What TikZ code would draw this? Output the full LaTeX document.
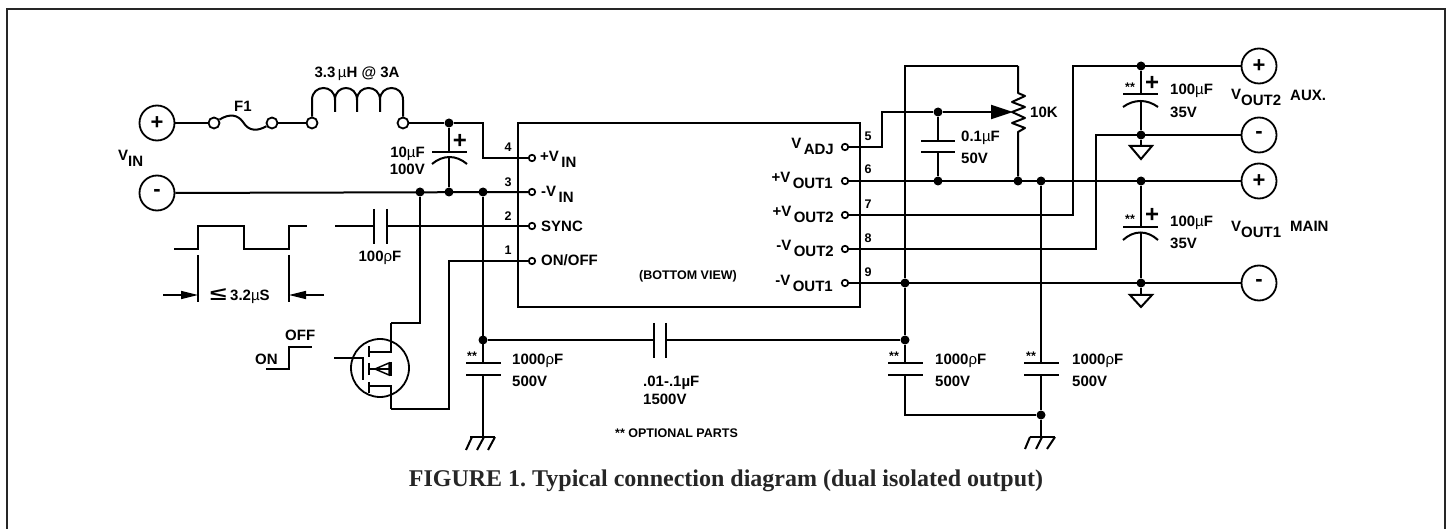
\documentclass[tikz,border=0pt]{standalone}
\usepackage{fontspec}
\usepackage{graphicx}
\setmainfont{Liberation Sans}
\newfontfamily\captionfont{Liberation Serif}
\usetikzlibrary{arrows.meta}
\usetikzlibrary{shapes}
\newcommand{\lowsub}[1]{\raisebox{-6pt}{#1}}
\newcommand{\thinmu}{{\mdseries µ}}
\newcommand{\thinrho}{{\mdseries ρ}}

\begin{document}
\begin{tikzpicture}[x = 1pt, y = -1pt]
	\tikzstyle{wireStyle} = [line width = 2pt]
	\tikzstyle{thinStyle} = [line width = 1.5pt]
	\tikzstyle{junctionStyle} = [shape = circle, minimum size = 9pt, inner sep = 0pt, fill]
	\tikzstyle{pinStyle} = [shape = circle, minimum size = 6.5pt, inner sep = 0pt, draw, line width = 1.7pt, fill = white]
	\tikzstyle{contactStyle} = [shape = circle, minimum size = 11pt, inner sep = 0pt, draw, line width = 1.8pt, fill = white]
	\tikzstyle{terminalStyle} = [shape = circle, minimum size = 35pt, inner sep = 0pt, draw, line width = 1.8pt, font = \bfseries\fontsize{22}{22}\selectfont]
	\tikzstyle{labelStyle} = [inner sep = 0pt, font = \bfseries\fontsize{15}{15}\selectfont]
	\tikzstyle{smallStyle} = [inner sep = 0pt, font = \bfseries\fontsize{12.5}{12.5}\selectfont]
	\tikzstyle{plusStyle} = [inner sep = 0pt, font = \bfseries\fontsize{24}{24}\selectfont]
	\useasboundingbox (0, 0) rectangle (1449, 529);
	% frame, open at the bottom
	\draw[line width = 2.4pt, color = black!85] (7, 529) -- (7, 9) -- (1445, 9) -- (1445, 529);
	% terminals
	\node[terminalStyle] (vinP) at (157, 123) {+};
	\node[terminalStyle] (vinN) at (157, 193) {-};
	\node[terminalStyle] (aux2P) at (1259, 66) {+};
	\node[terminalStyle] (aux2N) at (1259, 135) {-};
	\node[terminalStyle] (main1P) at (1259, 181) {+};
	\node[terminalStyle] (main1N) at (1259, 283) {-};
	% fuse and choke contacts
	\node[contactStyle] (fuseA) at (214, 123) {};
	\node[contactStyle] (fuseB) at (272, 123) {};
	\node[contactStyle] (chokeA) at (312, 123) {};
	\node[contactStyle] (chokeB) at (403, 123) {};
	% converter body
	\draw[line width = 2.5pt] (518, 123) rectangle (860, 307);
	% pins
	\node[pinStyle] (pin4) at (532, 158) {};
	\node[pinStyle] (pin3) at (532, 192) {};
	\node[pinStyle] (pin2) at (532, 226) {};
	\node[pinStyle] (pin1) at (532, 261) {};
	\node[pinStyle] (pin5) at (845, 147) {};
	\node[pinStyle] (pin6) at (845, 181) {};
	\node[pinStyle] (pin7) at (845, 215) {};
	\node[pinStyle] (pin8) at (845, 249) {};
	\node[pinStyle] (pin9) at (845, 283) {};
	% junctions
	\node[junctionStyle] (j0) at (449, 123) {};
	\node[junctionStyle] (j1) at (420, 192) {};
	\node[junctionStyle] (j2) at (449, 192) {};
	\node[junctionStyle] (j3) at (483, 192) {};
	\node[junctionStyle] (j4) at (483, 340) {};
	\node[junctionStyle] (j5) at (938, 112) {};
	\node[junctionStyle] (j6) at (938, 181) {};
	\node[junctionStyle] (j7) at (1018, 181) {};
	\node[junctionStyle] (j8) at (1041, 181) {};
	\node[junctionStyle] (j9) at (905, 283) {};
	\node[junctionStyle] (j10) at (905, 340) {};
	\node[junctionStyle] (j11) at (1041, 415) {};
	\node[junctionStyle] (j12) at (1141, 66) {};
	\node[junctionStyle] (j13) at (1141, 135) {};
	\node[junctionStyle] (j14) at (1141, 181) {};
	\node[junctionStyle] (j15) at (1141, 283) {};
	% bends and free ends
	\coordinate (b4) at (483, 158);
	\coordinate (b1) at (449, 261);
	\coordinate (b5) at (882, 147);
	\coordinate (b7) at (1073, 215);
	\coordinate (b8) at (1096, 249);
	\coordinate (potTop) at (1018, 66);
	\coordinate (potHigh) at (1018, 93);
	\coordinate (potLow) at (1018, 132);
	\coordinate (potWiper) at (1013, 112);
	\coordinate (drain) at (391, 323);
	\coordinate (source) at (391, 409);
	\coordinate (syncL) at (335, 226);
	\coordinate (syncA) at (374, 226);
	\coordinate (syncB) at (387, 226);
	\coordinate (isoA) at (654, 340);
	\coordinate (isoB) at (666, 340);
	\coordinate (gndL) at (483, 437);
	\coordinate (gndR) at (1041, 437);
	\coordinate (triU) at (1141, 146);
	\coordinate (triD) at (1141, 295);
	\coordinate (capL) at (483, 363);
	\coordinate (capLb) at (483, 375);
	\coordinate (capM) at (905, 363);
	\coordinate (capMb) at (905, 375);
	\coordinate (capR) at (1041, 363);
	\coordinate (capRb) at (1041, 375);
	\coordinate (capMe) at (905, 415);
	\coordinate (capA) at (938, 141);
	\coordinate (capAb) at (938, 152);
	\coordinate (capIn) at (449, 152);
	\coordinate (capInb) at (449, 157);
	\coordinate (capU) at (1141, 94);
	\coordinate (capUb) at (1141, 101);
	\coordinate (capD) at (1141, 227);
	\coordinate (capDb) at (1141, 232);
	% wiring, input side
	\draw[wireStyle] (vinP) -- (fuseA);
	\draw[wireStyle] (fuseA) .. controls (230, 113) and (238, 115) .. (243, 122) .. controls (249, 132) and (258, 131) .. (fuseB);
	\draw[wireStyle] (fuseB) -- (chokeA);
	\draw[wireStyle] (chokeA) -- (312, 100) .. controls (312, 84) and (335, 84) .. (335, 100) -- (335, 112);
	\draw[wireStyle] (335, 100) .. controls (335, 84) and (357, 84) .. (357, 100) -- (357, 112);
	\draw[wireStyle] (357, 100) .. controls (357, 84) and (380, 84) .. (380, 100) -- (380, 112);
	\draw[wireStyle] (380, 100) .. controls (380, 84) and (403, 84) .. (403, 100) -- (chokeB);
	\draw[wireStyle] (chokeB) -- (j0) -| (b4) -- (pin4);
	\draw[wireStyle] (vinN) -- (pin3);
	\draw[wireStyle] (j0) -- (capIn);
	\draw[wireStyle] (capInb) -- (j2);
	\draw[wireStyle] (432, 152) -- (467, 152);
	\draw[wireStyle] (432, 164) .. controls (443, 154.7) and (456, 154.7) .. (467, 164);
	\draw[wireStyle] (syncL) -- (syncA);
	\draw[wireStyle] (syncB) -- (pin2);
	\draw[wireStyle] (374, 209) -- (374, 244);
	\draw[wireStyle] (387, 209) -- (387, 244);
	\draw[wireStyle] (pin1) -- (b1) |- (source);
	\draw[wireStyle] (j1) |- (drain);
	% pulse and step
	\draw[wireStyle] (174, 249) -| (198, 226) -| (244, 249) -| (289, 226) -- (307, 226);
	\draw[thinStyle] (198, 255) -- (198, 302);
	\draw[thinStyle] (289, 255) -- (289, 302);
	\coordinate (arrL) at (163, 295);
	\coordinate (arrR) at (324, 295);
	\draw[thinStyle, -{Triangle[length = 17pt, width = 8pt]}] (arrL) -- (198, 295);
	\draw[thinStyle, -{Triangle[length = 17pt, width = 8pt]}] (arrR) -- (289, 295);
	\draw[wireStyle] (266, 369) -| (289, 347) -- (312, 347);
	% mosfet
	\node[shape = circle, minimum size = 58pt, inner sep = 0pt, draw, line width = 1.8pt] (q1) at (380, 368) {};
	\draw[wireStyle] (drain) -- (391, 352) -- (369, 352);
	\draw[wireStyle] (source) -- (391, 386) -- (369, 386);
	\draw[wireStyle] (334, 358) -- (363, 358) -- (363, 380);
	\draw[wireStyle] (369, 346) -- (369, 357);
	\draw[wireStyle] (369, 363) -- (369, 375);
	\draw[wireStyle] (369, 382) -- (369, 393);
	\draw[wireStyle] (369, 369) -- (391, 369);
	\draw[wireStyle] (391, 362) -- (391, 376);
	\draw[thinStyle] (375, 369) -- (389, 363) -- (389, 375) -- cycle;
	% wiring, isolation caps and earth
	\draw[wireStyle] (j3) -- (capL);
	\draw[wireStyle] (466, 363) -- (501, 363);
	\draw[wireStyle] (466, 375) -- (501, 375);
	\draw[wireStyle] (capLb) -- (gndL);
	\draw[wireStyle] (470, 437) -- (495, 437);
	\draw[wireStyle] (472, 437) -- (466, 450);
	\draw[wireStyle] (484, 437) -- (477, 450);
	\draw[wireStyle] (495, 437) -- (488, 450);
	\draw[wireStyle] (j4) -- (isoA);
	\draw[wireStyle] (654, 323) -- (654, 358);
	\draw[wireStyle] (666, 323) -- (666, 358);
	\draw[wireStyle] (isoB) -- (j10);
	\draw[wireStyle] (potTop) -| (j9);
	\draw[wireStyle] (j9) -- (j10);
	\draw[wireStyle] (j10) -- (capM);
	\draw[wireStyle] (888, 363) -- (923, 363);
	\draw[wireStyle] (888, 375) -- (923, 375);
	\draw[wireStyle] (capMb) -- (capMe) -- (j11);
	\draw[wireStyle] (j8) -- (capR);
	\draw[wireStyle] (1024, 363) -- (1059, 363);
	\draw[wireStyle] (1024, 375) -- (1059, 375);
	\draw[wireStyle] (capRb) -- (j11);
	\draw[wireStyle] (j11) -- (gndR);
	\draw[wireStyle] (1030, 437) -- (1055, 437);
	\draw[wireStyle] (1030, 437) -- (1025, 449);
	\draw[wireStyle] (1042, 437) -- (1036, 449);
	\draw[wireStyle] (1055, 437) -- (1047, 449);
	% wiring, output side
	\draw[wireStyle] (pin5) -| (b5) |- (j5);
	\draw[wireStyle, -{Triangle[length = 22pt, width = 14pt]}] (j5) -- (potWiper);
	\draw[wireStyle] (j5) -- (capA);
	\draw[wireStyle] (921, 141) -- (955, 141);
	\draw[wireStyle] (921, 152) -- (955, 152);
	\draw[wireStyle] (capAb) -- (j6);
	\draw[wireStyle, line join = round] (potTop) -- (potHigh) -- (1025, 96) -- (1012, 102) -- (1025, 107) -- (1012, 112) -- (1025, 118) -- (1012, 123) -- (1025, 128) -- (potLow) -- (j7);
	\draw[wireStyle] (pin6) -- (main1P);
	\draw[wireStyle] (pin9) -- (main1N);
	\draw[wireStyle] (pin7) -- (b7) |- (aux2P);
	\draw[wireStyle] (pin8) -- (b8) |- (aux2N);
	\draw[wireStyle] (j12) -- (capU);
	\draw[wireStyle] (1123, 94) -- (1158, 94);
	\draw[wireStyle] (1123, 107) .. controls (1134, 99) and (1147, 99) .. (1158, 107);
	\draw[wireStyle] (capUb) -- (j13);
	\draw[wireStyle] (j13) -- (triU);
	\draw[wireStyle] (1130, 146) -- (1152, 146) -- (1141, 159) -- cycle;
	\draw[wireStyle] (j14) -- (capD);
	\draw[wireStyle] (1123, 227) -- (1158, 227);
	\draw[wireStyle] (1123, 240) .. controls (1134, 230) and (1147, 230) .. (1158, 240);
	\draw[wireStyle] (capDb) -- (j15);
	\draw[wireStyle] (j15) -- (triD);
	\draw[wireStyle] (1130, 295) -- (1152, 295) -- (1141, 307) -- cycle;
	% texts, input side
	\node[labelStyle, anchor = base] (lF1) at (243, 112) {F1};
	\node[labelStyle, anchor = base] (lChoke) at (357, 78) {3.3\,\thinmu H @ 3A};
	\node[labelStyle, anchor = base west] (lVin) at (118, 161) {V\lowsub{IN}};
	\node[labelStyle, anchor = base east] (lC1a) at (425, 158) {10\thinmu F};
	\node[labelStyle, anchor = base east] (lC1b) at (425, 175) {100V};
	\node[plusStyle] (lC1p) at (460, 141) {+};
	\node[labelStyle, anchor = base] (lSync) at (380, 262) {100\thinrho F};
	\node[labelStyle, anchor = base west] (lPulse) at (210, 301) {\makebox[20pt][l]{\scalebox{2}[1.25]{≤}}3.2\thinmu S};
	\node[labelStyle, anchor = base west] (lOn) at (255, 364) {ON};
	\node[labelStyle, anchor = base west] (lOff) at (285, 341) {OFF};
	% texts, pins
	\node[smallStyle, anchor = base] (n4) at (508, 152) {4};
	\node[smallStyle, anchor = base] (n3) at (508, 187) {3};
	\node[smallStyle, anchor = base] (n2) at (508, 221) {2};
	\node[smallStyle, anchor = base] (n1) at (508, 255) {1};
	\node[smallStyle, anchor = base] (n5) at (868, 141) {5};
	\node[smallStyle, anchor = base] (n6) at (868, 174) {6};
	\node[smallStyle, anchor = base] (n7) at (868, 209) {7};
	\node[smallStyle, anchor = base] (n8) at (868, 243) {8};
	\node[smallStyle, anchor = base] (n9) at (868, 277) {9};
	\node[labelStyle, anchor = base west] (t4) at (540, 162) {+V\,\lowsub{IN}};
	\node[labelStyle, anchor = base west] (t3) at (541, 197) {-V\,\lowsub{IN}};
	\node[labelStyle, anchor = base west] (t2) at (541, 232) {SYNC};
	\node[labelStyle, anchor = base west] (t1) at (541, 266) {ON/OFF};
	\node[labelStyle, anchor = base east] (t5) at (834, 149) {V\,\lowsub{ADJ}};
	\node[labelStyle, anchor = base east] (t6) at (833, 183) {+V\,\lowsub{OUT1}};
	\node[labelStyle, anchor = base east] (t7) at (834, 217) {+V\,\lowsub{OUT2}};
	\node[labelStyle, anchor = base east] (t8) at (834, 251) {-V\,\lowsub{OUT2}};
	\node[labelStyle, anchor = base east] (t9) at (833, 286) {-V\,\lowsub{OUT1}};
	\node[smallStyle, anchor = base] (tView) at (688, 280) {(BOTTOM VIEW)};
	% texts, isolation caps
	\node[smallStyle, anchor = center] (sL) at (472, 356) {**};
	\node[labelStyle, anchor = base west] (lCLa) at (512, 364) {1000\thinrho F};
	\node[labelStyle, anchor = base west] (lCLb) at (512, 386) {500V};
	\node[labelStyle, anchor = base west] (lIsoA) at (643, 386) {.01-.1µF};
	\node[labelStyle, anchor = base west] (lIsoB) at (643, 404) {1500V};
	\node[smallStyle, anchor = base west] (lOpt) at (615, 437) {** OPTIONAL PARTS};
	\node[smallStyle, anchor = center] (sM) at (894, 356) {**};
	\node[labelStyle, anchor = base west] (lCMa) at (935, 364) {1000\thinrho F};
	\node[labelStyle, anchor = base west] (lCMb) at (935, 386) {500V};
	\node[smallStyle, anchor = center] (sR) at (1031, 356) {**};
	\node[labelStyle, anchor = base west] (lCRa) at (1072, 364) {1000\thinrho F};
	\node[labelStyle, anchor = base west] (lCRb) at (1072, 386) {500V};
	% texts, output side
	\node[labelStyle, anchor = base west] (lCAa) at (961, 142) {0.1\thinmu F};
	\node[labelStyle, anchor = base west] (lCAb) at (961, 164) {50V};
	\node[labelStyle, anchor = base west] (lPot) at (1030, 118) {10K};
	\node[smallStyle, anchor = center] (sU) at (1130, 87) {**};
	\node[plusStyle] (lCUp) at (1152, 83) {+};
	\node[labelStyle, anchor = base west] (lCUa) at (1170, 95) {100\thinmu F};
	\node[labelStyle, anchor = base west] (lCUb) at (1170, 118) {35V};
	\node[smallStyle, anchor = center] (sD) at (1130, 219) {**};
	\node[plusStyle] (lCDp) at (1152, 215) {+};
	\node[labelStyle, anchor = base west] (lCDa) at (1170, 227) {100\thinmu F};
	\node[labelStyle, anchor = base west] (lCDb) at (1170, 249) {35V};
	\node[labelStyle, anchor = base west] (lOut2) at (1231, 100) {V\lowsub{OUT2}};
	\node[labelStyle, anchor = base west] (lAux) at (1290, 101) {AUX.};
	\node[labelStyle, anchor = base west] (lOut1) at (1231, 232) {V\lowsub{OUT1}};
	\node[labelStyle, anchor = base west] (lMain) at (1290, 232) {MAIN};
	\node[inner sep = 0pt, anchor = base, color = black!85, font = \captionfont\bfseries\fontsize{24}{24}\selectfont] (lCaption) at (726, 486) {\frenchspacing FIGURE 1. Typical connection diagram (dual isolated output)};
\end{tikzpicture}
\end{document}
